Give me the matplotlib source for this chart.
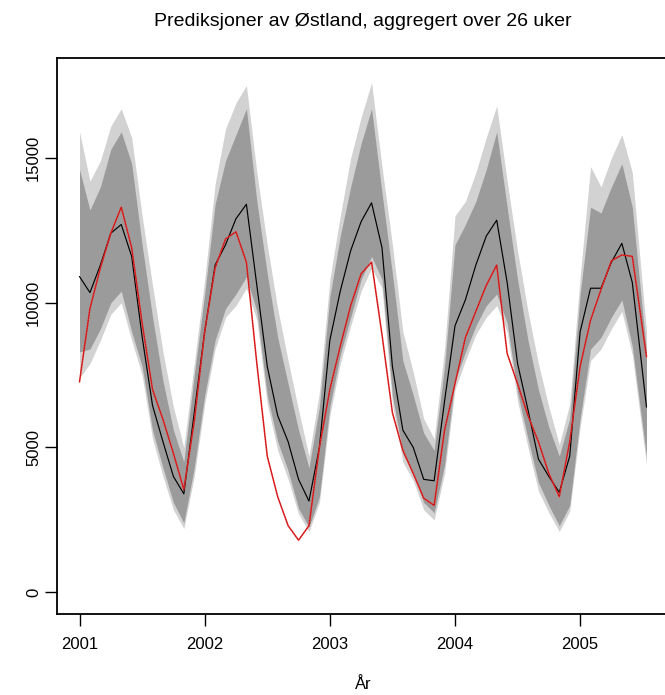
import numpy as np
import matplotlib
matplotlib.use("Agg")
import matplotlib.pyplot as plt

# time grid: monthly steps from 2001.0 to 2005.5 (last point at end of data)
t = [2001 + k / 12 for k in range(54)] + [2005.53]

# black: prediction
pred = [10900, 10350, 11300, 12400, 12700, 11600, 8830, 6450, 5200, 4000, 3400, 6200,
        9000, 11300, 12000, 12900, 13400, 10600, 7800, 6100, 5200, 3900, 3150, 5000,
        8700, 10400, 11800, 12800, 13450, 11900, 7800, 5600, 5000, 3900, 3850, 6600,
        9200, 10100, 11300, 12300, 12850, 10700, 7900, 6300, 4600, 4000, 3450, 4700,
        9000, 10500, 10500, 11400, 12050, 10700, 6400]

# red: observed
obs = [7270, 9800, 11200, 12400, 13300, 11900, 9300, 7000, 5970, 4800, 3550, 5900,
       9000, 11200, 12200, 12450, 11400, 7900, 4700, 3300, 2300, 1800, 2300, 5000,
       7000, 8500, 9900, 11000, 11400, 8900, 6200, 4900, 4100, 3250, 3000, 5600,
       7200, 8800, 9700, 10600, 11300, 8250, 7200, 6100, 5200, 4100, 3300, 5200,
       7800, 9400, 10450, 11450, 11650, 11600, 8140]

# inner (dark) band
inner_hi = [14600, 13200, 14000, 15300, 15900, 14800, 12000, 9500, 7300, 5600, 4500, 7500,
            10300, 13400, 14900, 15800, 16700, 13500, 11000, 8800, 7200, 5600, 4300, 6400,
            10200, 12300, 14000, 15500, 16700, 13800, 11000, 8000, 6800, 5500, 4900, 7800,
            12000, 12700, 13500, 14600, 15900, 13300, 10800, 8700, 7000, 5700, 4700, 6000,
            10300, 13300, 13100, 14000, 14800, 13300, 8300]
inner_lo = [8300, 8400, 9100, 10000, 10400, 9000, 7800, 5600, 4300, 3100, 2400, 4300,
            6800, 8700, 9800, 10300, 10900, 9700, 6800, 5200, 4200, 2900, 2250, 3300,
            6400, 8200, 9500, 10800, 11600, 10800, 6800, 4800, 4100, 3100, 2750, 4400,
            7300, 8300, 9200, 9900, 10300, 9300, 6900, 5300, 3800, 3000, 2300, 3000,
            6000, 8400, 8800, 9500, 10100, 8500, 4700]

# outer (light) band
outer_hi = [15900, 14200, 14900, 16100, 16700, 15700, 13000, 10600, 8300, 6400, 5000, 7900,
            10800, 14100, 16000, 16900, 17500, 14500, 12000, 9800, 8000, 6300, 4700, 6900,
            10800, 13000, 15000, 16400, 17600, 14700, 12000, 9000, 7600, 6000, 5300, 8400,
            13000, 13500, 14500, 15700, 16800, 14200, 11800, 9700, 7900, 6400, 5100, 6500,
            10900, 14700, 14000, 15000, 15800, 14500, 9000]
outer_lo = [7400, 7900, 8700, 9600, 10000, 8700, 7500, 5300, 4000, 2850, 2200, 4000,
            6500, 8400, 9500, 9900, 10500, 9400, 6500, 4900, 3900, 2700, 2100, 3100,
            6100, 7900, 9200, 10400, 11200, 10500, 6500, 4500, 3850, 2850, 2500, 4100,
            7000, 8000, 8900, 9500, 9900, 9000, 6600, 5000, 3500, 2750, 2100, 2800,
            5700, 8000, 8400, 9100, 9700, 8200, 4400]

x_ticks = [2001, 2002, 2003, 2004, 2005]
y_ticks = [0, 5000, 10000, 15000]

plt.rcParams['font.family'] = ['Liberation Sans', 'DejaVu Sans']

fig = plt.figure(figsize=(6.65, 6.95), dpi=100)
W, H = 665, 695
left, right, top, bottom = 57, 669, 58, 614
ax = fig.add_axes([left / W, 1 - bottom / H, (right - left) / W, (bottom - top) / H])

ax.fill_between(t, outer_lo, outer_hi, color='#d2d2d2', linewidth=0)
ax.fill_between(t, inner_lo, inner_hi, color='#9b9b9b', linewidth=0)
ax.plot(t, pred, color='black', lw=0.85)
ax.plot(t, obs, color='#ee2222', lw=1.1)
ax.plot(t, obs, color='black', lw=0.4, dashes=(2, 3), alpha=0.5)

ax.set_xlim(2001 - 0.18, 2005.53 + 0.18)
ax.set_ylim(-750, 18450)
ax.set_xticks(x_ticks)
ax.set_xticklabels([str(v) for v in x_ticks], fontsize=12)
ax.set_yticks(y_ticks)
ax.set_yticklabels([str(v) for v in y_ticks], fontsize=12, rotation=90, va='center')
ax.tick_params(axis='both', length=8.5, width=1.0, direction='out')
ax.tick_params(axis='x', pad=8)
ax.tick_params(axis='y', pad=3)
for s in ax.spines.values():
    s.set_linewidth(1.3)

ax.set_xlabel('År', fontsize=12, labelpad=18)
fig.text(363 / W, 1 - 22 / H, 'Prediksjoner av Østland, aggregert over 26 uker',
         ha='center', va='center', fontsize=14)

fig.savefig('out.png', dpi=100)
